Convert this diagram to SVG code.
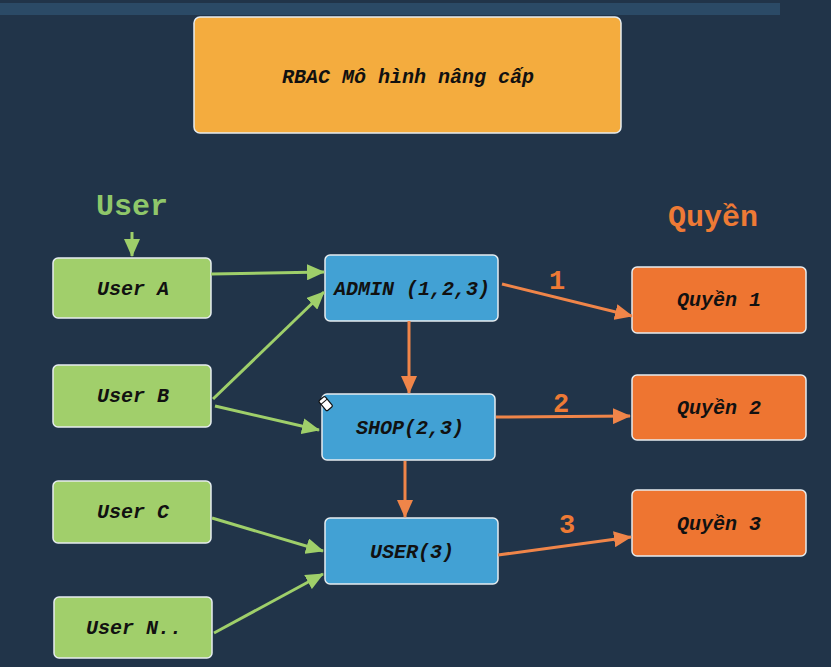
<svg xmlns="http://www.w3.org/2000/svg" width="831" height="667" viewBox="0 0 831 667">
  <style>
    .box { stroke: #e6ecef; stroke-width: 1.5; }
    .title { fill: #f4ac3e; }
    .user { fill: #a1cf6b; }
    .role { fill: #42a1d4; }
    .perm { fill: #ee7531; }
    .lbl { font-family: "Liberation Mono", "Courier New", monospace; font-weight: bold; font-style: italic; font-size: 20px; fill: #111; text-anchor: middle; dominant-baseline: central; }
    .head { font-family: "Liberation Mono", "Courier New", monospace; font-weight: bold; font-size: 30px; text-anchor: middle; }
    .num { font-family: "Liberation Mono", "Courier New", monospace; font-weight: bold; font-size: 27px; fill: #ee7a35; text-anchor: middle; }
    .g { stroke: #9fcf6a; stroke-width: 3; fill: none; marker-end: url(#ag); }
    .o { stroke: #f08549; stroke-width: 3; fill: none; marker-end: url(#ao); }
  </style>
  <defs>
    <marker id="ag" viewBox="0 0 18 16" refX="17" refY="8" markerWidth="18" markerHeight="16" markerUnits="userSpaceOnUse" orient="auto">
      <path d="M0,0 L18,8 L0,16 Z" fill="#9fcf6a"/>
    </marker>
    <marker id="ao" viewBox="0 0 18 16" refX="17" refY="8" markerWidth="18" markerHeight="16" markerUnits="userSpaceOnUse" orient="auto">
      <path d="M0,0 L18,8 L0,16 Z" fill="#f08549"/>
    </marker>
  </defs>

  <!-- background -->
  <rect x="0" y="0" width="831" height="667" fill="#213449"/>
  <rect x="0" y="3" width="780" height="12" fill="#2b4a66"/>

  <!-- title -->
  <g id="title">
    <rect class="box title" x="194" y="17" width="427" height="116" rx="6"/>
    <text class="lbl" x="408" y="77">RBAC Mô hình nâng cấp</text>
  </g>

  <!-- column headings -->
  <g id="head-user">
    <text class="head" x="132" y="215" fill="#8fc76a">User</text>
  </g>
  <g id="head-perm">
    <text class="head" x="713" y="226" fill="#ee7a35">Quyền</text>
  </g>

  <!-- users -->
  <g id="user-a">
    <rect class="box user" x="53" y="258" width="158" height="60" rx="5"/>
    <text class="lbl" x="133" y="289">User A</text>
  </g>
  <g id="user-b">
    <rect class="box user" x="53" y="365" width="158" height="62" rx="5"/>
    <text class="lbl" x="133" y="396">User B</text>
  </g>
  <g id="user-c">
    <rect class="box user" x="53" y="481" width="158" height="62" rx="5"/>
    <text class="lbl" x="133" y="512">User C</text>
  </g>
  <g id="user-n">
    <rect class="box user" x="54" y="597" width="158" height="61" rx="5"/>
    <text class="lbl" x="134" y="628">User N..</text>
  </g>

  <!-- roles -->
  <g id="role-admin">
    <rect class="box role" x="325" y="255" width="173" height="66" rx="5"/>
    <text class="lbl" x="412" y="289">ADMIN (1,2,3)</text>
  </g>
  <g id="role-shop">
    <rect class="box role" x="322" y="394" width="173" height="66" rx="5"/>
    <text class="lbl" x="410" y="428">SHOP(2,3)</text>
  </g>
  <g id="role-user">
    <rect class="box role" x="325" y="518" width="173" height="66" rx="5"/>
    <text class="lbl" x="412" y="552">USER(3)</text>
  </g>

  <!-- permissions -->
  <g id="perm-1">
    <rect class="box perm" x="632" y="267" width="174" height="66" rx="5"/>
    <text class="lbl" x="719" y="300">Quyền 1</text>
  </g>
  <g id="perm-2">
    <rect class="box perm" x="632" y="375" width="174" height="65" rx="5"/>
    <text class="lbl" x="719" y="408">Quyền 2</text>
  </g>
  <g id="perm-3">
    <rect class="box perm" x="632" y="490" width="174" height="66" rx="5"/>
    <text class="lbl" x="719" y="524">Quyền 3</text>
  </g>

  <!-- connectors -->
  <g id="connectors">
    <path class="g" d="M132,232 L132,256"/>
    <path class="g" d="M211,274 L324,272"/>
    <path class="g" d="M213,399 L324,292"/>
    <path class="g" d="M215,406 L319,430"/>
    <path class="g" d="M212,518 L323,551"/>
    <path class="g" d="M214,633 L323,574"/>
    <path class="o" d="M502,284 L632,316"/>
    <path class="o" d="M409,321 L409,393"/>
    <path class="o" d="M496,417 L630,416"/>
    <path class="o" d="M405,461 L405,517"/>
    <path class="o" d="M498,555 L631,537"/>
    <text class="num" x="557" y="289">1</text>
    <text class="num" x="561" y="412">2</text>
    <text class="num" x="567" y="533">3</text>
  </g>

  <!-- pointer cursor -->
  <g id="cursor" transform="translate(326,404) rotate(-40)">
    <rect x="-4" y="-7" width="8" height="13" rx="1.5" fill="#fff" stroke="#111" stroke-width="1.2"/>
    <line x1="-4" y1="-3" x2="4" y2="-3" stroke="#111" stroke-width="1"/>
  </g>
</svg>
